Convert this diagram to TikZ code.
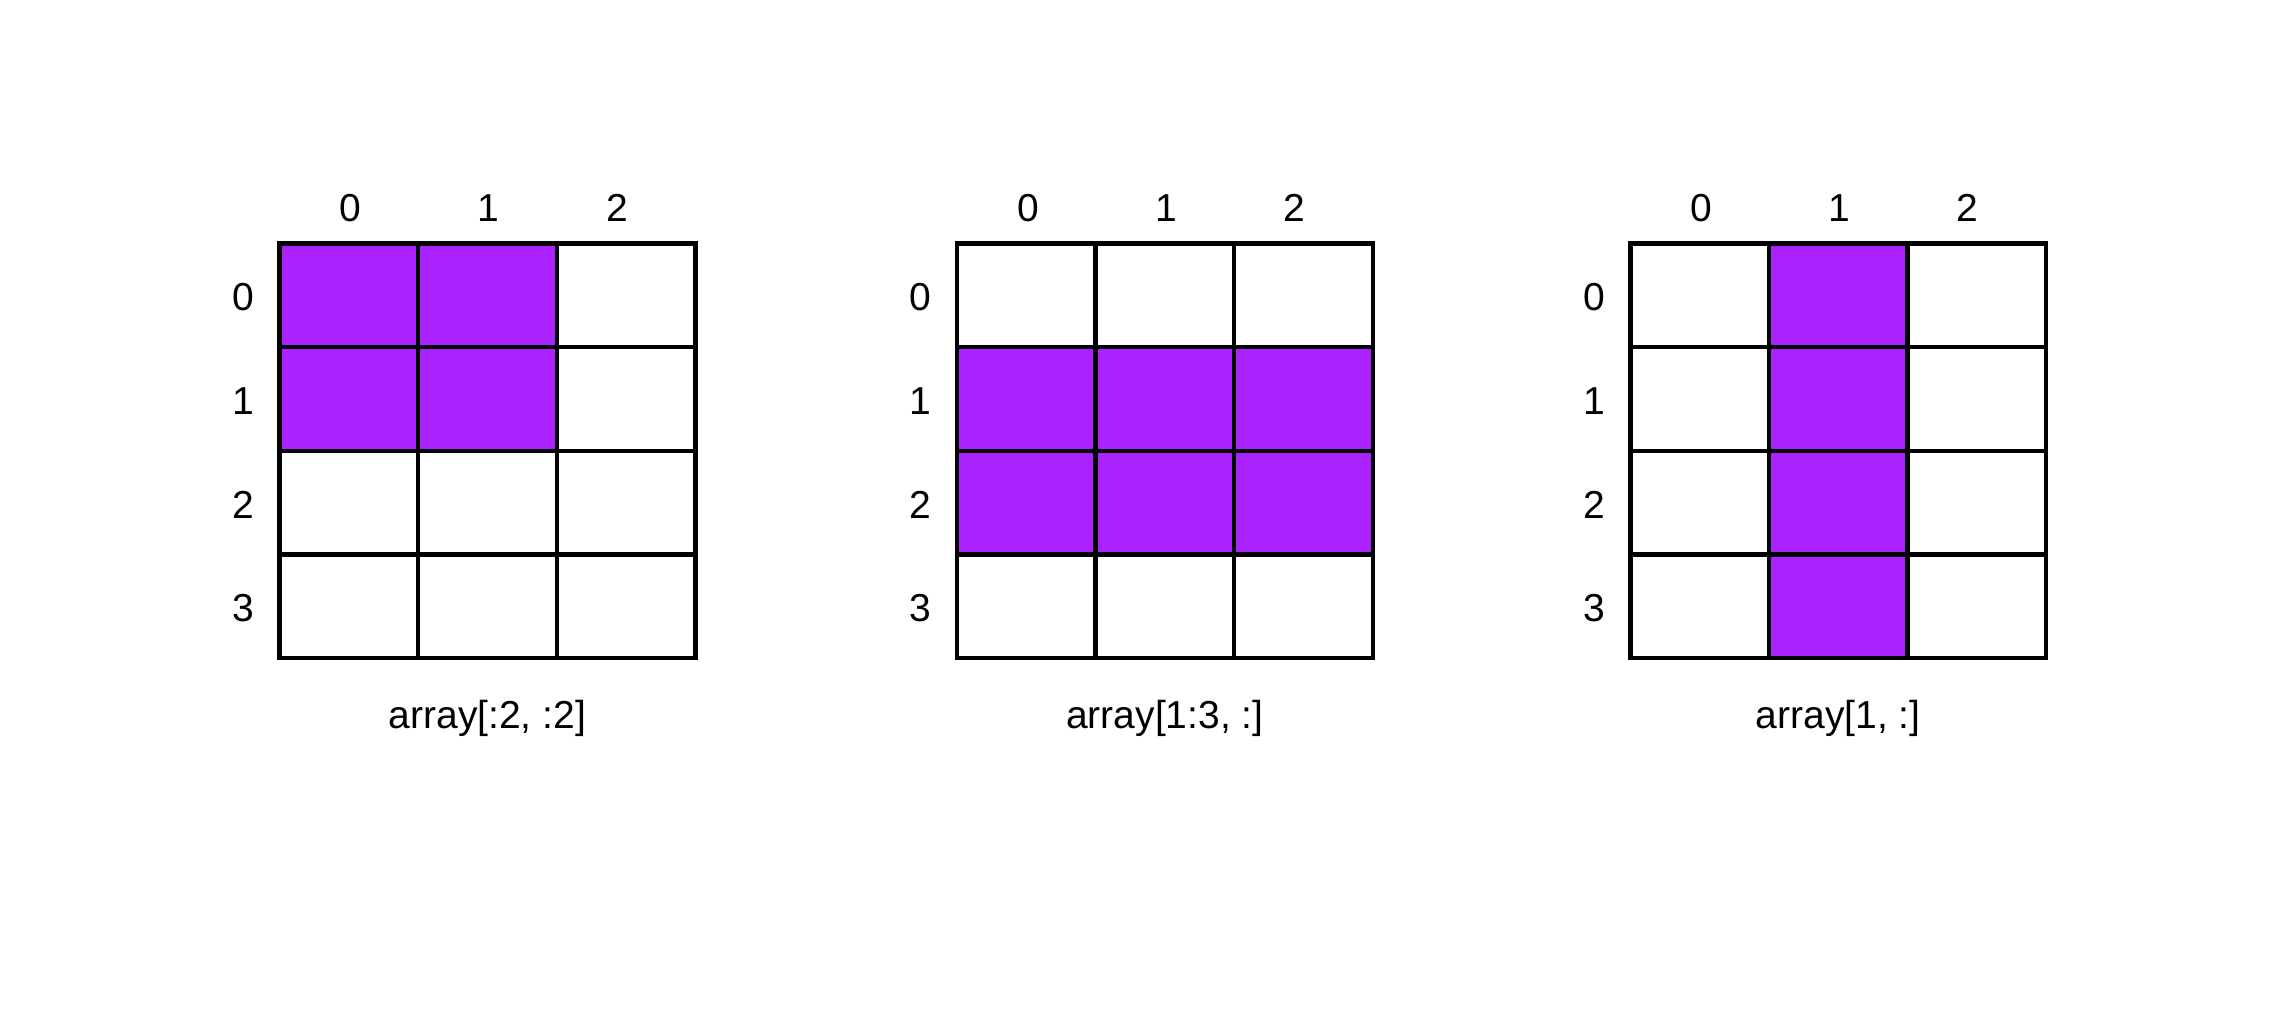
\documentclass[tikz,border=0pt]{standalone}
\usepackage{fontspec}
\setmainfont{Liberation Sans}
\definecolor{sel}{RGB}{170,34,255}
\begin{document}
\begin{tikzpicture}[x=0.5pt,y=-0.5pt,
  gridline/.style={line width=2.2pt, draw=black, line cap=rect},
  lbl/.style={font=\fontsize{19.5}{22}\selectfont, inner sep=0pt, anchor=center},
  selcell/.style={fill=sel}]
\useasboundingbox (0,0) rectangle (2280,1024);
\fill[white] (0,0) rectangle (2280,1024);
\def\T{243.5}
\def\W{138.6}
\def\H{103.6}
% selected cells: grid a (rows 0-1, cols 0-1)
\foreach \r in {0,1} \foreach \c in {0,1}
  \fill[selcell] ({279.5+\c*\W},{\T+\r*\H}) rectangle ++(\W,\H);
% grid b (rows 1-2, all cols)
\foreach \r in {1,2} \foreach \c in {0,1,2}
  \fill[selcell] ({957+\c*\W},{\T+\r*\H}) rectangle ++(\W,\H);
% grid c (col 1, all rows)
\foreach \r in {0,1,2,3}
  \fill[selcell] ({1630.3+\W},{\T+\r*\H}) rectangle ++(\W,\H);
% grids, labels
\foreach \g/\L/\cap in {a/279.5/{array[:2, :2]}, b/957/{array[1:3, :]}, c/1630.3/{array[1, :]}} {
  \foreach \c in {1,2}
    \draw[gridline] ({\L+\c*\W},\T) -- ({\L+\c*\W},{\T+4*\H});
  \foreach \r in {1,2,3}
    \draw[gridline] (\L,{\T+\r*\H}) -- ({\L+3*\W},{\T+\r*\H});
  \draw[gridline] (\L,\T) rectangle ({\L+3*\W},{\T+4*\H});
  \foreach \c/\dx in {0/2,1/1,2/-9}
    \node[lbl] (col\g\c) at ({\L+(\c+0.5)*\W+\dx},208) {\c};
  \foreach \r in {0,1,2,3}
    \node[lbl] (row\g\r) at ({\L-36.4},{\T+(\r+0.5)*\H+2}) {\r};
  \node[lbl] (cap\g) at ({\L+1.5*\W},718) {\cap};
}
\end{tikzpicture}
\end{document}
